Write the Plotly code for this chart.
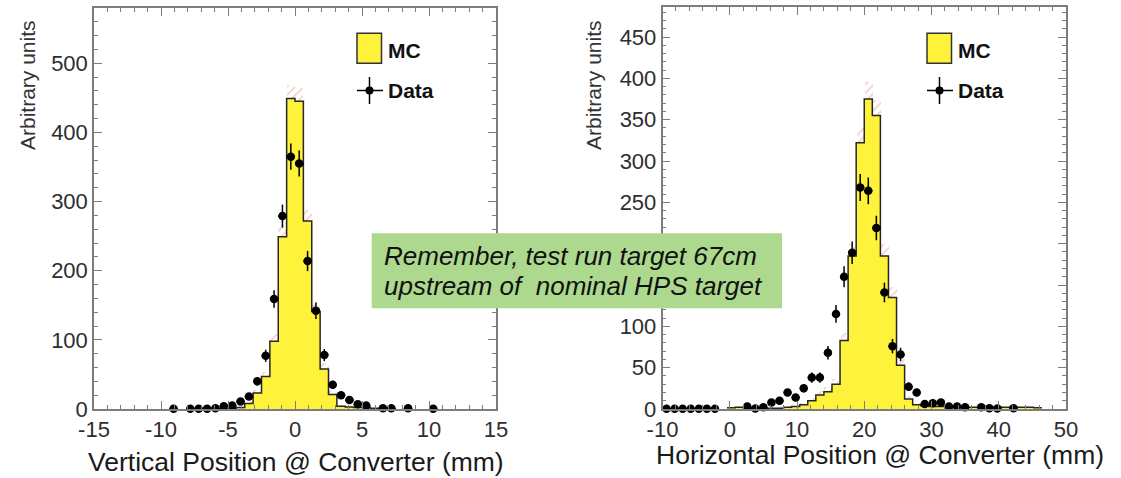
import plotly.graph_objects as go

W, H = 1121, 478

# ---- vertical position @ converter (bins of 0.625 mm) ----
vert_bin = 0.625
vert_mc_x = [-5.3125, -4.6875, -4.0625, -3.4375, -2.8125, -2.1875, -1.5625, -0.9375, -0.3125,
             0.3125, 0.9375, 1.5625, 2.1875, 2.8125, 3.4375, 4.0625, 4.6875, 5.3125, 5.9375,
             6.5625, 7.1875]
vert_mc = [0.5, 1, 2, 8, 23, 47, 98, 249, 449, 445, 272, 141, 58, 21, 4, 3, 2, 2, 1, 1, 0.5]
vert_mc_err = [0.5, 1, 1.5, 3, 5, 7, 10, 16, 20, 20, 16, 12, 8, 5, 2, 2, 1.5, 1.5, 1, 1, 0.5]

vert_data_x = [-9.0625, -7.8125, -7.1875, -6.5625, -5.9375, -5.3125, -4.6875, -4.0625, -3.4375,
               -2.8125, -2.1875, -1.5625, -0.9375, -0.3125, 0.3125, 0.9375, 1.5625, 2.1875,
               2.8125, 3.4375, 4.0625, 4.6875, 5.3125, 6.5625, 7.1875, 8.4375, 10.3125]
vert_data = [0.5, 0.5, 0.5, 0.5, 1, 4, 5, 11, 18, 40, 77, 159, 279, 365, 355, 214, 142, 78,
             35, 20, 13, 7, 5, 1, 1, 1, 0.5]
vert_data_err = [0.7, 0.7, 0.7, 0.7, 1, 2, 2.2, 3.3, 4.2, 6.3, 8.8, 12.6, 16.7, 19.1, 18.8,
                 14.6, 11.9, 8.8, 5.9, 4.5, 3.6, 2.6, 2.2, 1, 1, 1, 0.7]
vert_ticks = [-15, -10, -5, 0, 5, 10, 15]

# ---- horizontal position @ converter (bins of 1.2 mm) ----
horiz_bin = 1.2
horiz_mc_x = [0.2, 1.4, 2.6, 3.8, 5.0, 6.2, 7.4, 8.6, 9.8, 11.0, 12.2, 13.4, 14.6, 15.8, 17.0,
              18.2, 19.4, 20.6, 21.8, 23.0, 24.2, 25.4, 26.6, 27.8, 29.0, 30.2, 31.4, 32.6,
              33.8, 35.0, 36.2, 37.4, 38.6, 39.8, 41.0, 42.2, 43.4, 44.6, 45.8]
horiz_mc = [1.5, 2, 1.5, 0.5, 0.5, 1, 1, 2, 3, 5, 10, 17, 21, 30, 83, 185, 322, 375, 355, 185,
            135, 53, 12, 5, 4, 3, 3, 2.5, 2, 2, 2, 2, 2, 2, 2, 2, 2, 2, 1.5]
horiz_mc_err = [1, 1, 1, 0.5, 0.5, 1, 1, 1.5, 1.5, 2, 3, 4, 5, 6, 9, 14, 18, 20, 19, 14, 12, 7,
                3.5, 2, 2, 1.5, 1.5, 1.5, 1.5, 1, 1, 1, 1, 1, 1, 1, 1, 1, 1]

horiz_data_x = [-9.4, -8.2, -7.0, -5.8, -4.6, -3.4, -2.2, 2.6, 3.8, 5.0, 6.2, 7.4, 8.6, 9.8,
                11.0, 12.2, 13.4, 14.6, 15.8, 17.0, 18.2, 19.4, 20.6, 21.8, 23.0, 24.2, 25.4,
                26.6, 27.8, 29.0, 30.2, 31.4, 32.6, 33.8, 35.0, 37.4, 38.6, 39.8, 42.2]
horiz_data = [0.3, 0.3, 0.3, 0.3, 0.3, 0.3, 0.3, 3, 0.5, 2, 8, 10, 20, 14, 25, 38, 38, 68, 115,
              160, 189, 268, 264, 219, 141, 76, 66, 27, 20, 6, 7, 8, 3, 3, 2, 2, 1, 0.5, 1]
horiz_data_err = [0.5, 0.5, 0.5, 0.5, 0.5, 0.5, 0.5, 1.7, 0.7, 1.4, 2.8, 3.2, 4.5, 3.7, 5, 6.2,
                  6.2, 8.2, 10.7, 12.6, 13.7, 16.4, 16.2, 14.8, 11.9, 8.7, 8.1, 5.2, 4.5, 2.4,
                  2.6, 2.8, 1.7, 1.7, 1.4, 1.4, 1, 0.7, 1]
horiz_ticks = [-10, 0, 10, 20, 30, 40, 50]

note_lines = ['Remember, test run target 67cm', 'upstream of  nominal HPS target']

YELLOW = '#fff23a'
FONT = 'Liberation Sans, Arial, Helvetica, sans-serif'
AXCOL = '#7d7d7d'


def px_x(p):
    return p / W


def px_y(p):
    return (H - p) / H


def add_panel(fig, mc_x, mc, mc_err, d_x, d, d_err, width, xa, ya):
    edges = [c - width / 2 for c in mc_x] + [mc_x[-1] + width / 2]
    fig.add_trace(go.Scatter(x=edges, y=mc + [mc[-1]], mode='lines', line_shape='hv',
                             fill='tozeroy', fillcolor=YELLOW,
                             line=dict(color='#262626', width=1.5),
                             xaxis=xa, yaxis=ya, hoverinfo='skip', showlegend=False))
    fig.add_trace(go.Bar(x=mc_x, y=[2 * e for e in mc_err],
                         base=[v - e for v, e in zip(mc, mc_err)], width=width,
                         marker=dict(color='rgba(0,0,0,0)', line_width=0,
                                     pattern=dict(shape='/', fgcolor='rgba(225,70,70,0.6)',
                                                  size=6, solidity=0.25, fillmode='overlay')),
                         xaxis=xa, yaxis=ya, hoverinfo='skip', showlegend=False))
    fig.add_trace(go.Scatter(x=d_x, y=d, mode='markers',
                             marker=dict(color='black', size=8.5),
                             error_y=dict(type='data', array=d_err, color='black',
                                          thickness=1.5, width=0),
                             error_x=dict(type='constant', value=width / 2, color='black',
                                          thickness=1.5, width=0),
                             cliponaxis=False, xaxis=xa, yaxis=ya, showlegend=False))


fig = go.Figure()
add_panel(fig, vert_mc_x, vert_mc, vert_mc_err, vert_data_x, vert_data, vert_data_err,
          vert_bin, 'x', 'y')
add_panel(fig, horiz_mc_x, horiz_mc, horiz_mc_err, horiz_data_x, horiz_data, horiz_data_err,
          horiz_bin, 'x2', 'y2')

axis_style = dict(showline=True, linecolor=AXCOL, linewidth=1.5, mirror='ticks',
                  ticks='inside', ticklen=8, tickwidth=1.2, tickcolor=AXCOL,
                  showgrid=False, zeroline=False, fixedrange=True, automargin=False,
                  tickfont=dict(family=FONT, size=22, color='#2e2e2e'))


def minor(d):
    return dict(ticks='inside', ticklen=4, tickwidth=1, tickcolor=AXCOL, dtick=d)


def hyphen_labels(vals):
    return [str(v) if v >= 0 else '-' + str(-v) for v in vals]


fig.update_layout(
    xaxis=dict(axis_style, domain=[px_x(94), px_x(496)], range=[-15, 15],
               tickvals=vert_ticks, ticktext=hyphen_labels(vert_ticks),
               minor=minor(1), anchor='y'),
    yaxis=dict(axis_style, domain=[px_y(409), px_y(8)], range=[0, 580], dtick=100,
               minor=minor(20), anchor='x'),
    xaxis2=dict(axis_style, domain=[px_x(662.5), px_x(1066)], range=[-10, 50],
                tickvals=horiz_ticks, ticktext=hyphen_labels(horiz_ticks),
                minor=minor(2), anchor='y2'),
    yaxis2=dict(axis_style, domain=[px_y(409), px_y(7.3)], range=[0, 486], dtick=50,
                minor=minor(10), anchor='x2'),
    width=W, height=H, autosize=False,
    margin=dict(l=0, r=0, t=0, b=0, pad=0, autoexpand=False),
    plot_bgcolor='white', paper_bgcolor='white',
    barmode='overlay', bargap=0,
)

annots = []
shapes = []


def note(x, y, text, size, color, xanchor='center', yanchor='middle', **kw):
    annots.append(dict(x=px_x(x), y=px_y(y), xref='paper', yref='paper', text=text,
                       xanchor=xanchor, yanchor=yanchor, showarrow=False,
                       font=dict(family=FONT, size=size, color=color), **kw))


# y-axis titles, ROOT style (aligned to top end)
for xc in (27, 593):
    note(xc, 85, 'Arbitrary units', 21, '#333333', textangle=-90)

# x-axis titles
note(295.5, 462, 'Vertical Position @ Converter (mm)', 26.5, '#1a1a1a')
note(880, 455, 'Horizontal Position @ Converter (mm)', 26.5, '#1a1a1a')

# legends
for bx in (357, 927):
    shapes.append(dict(type='rect', xref='paper', yref='paper',
                       x0=px_x(bx), x1=px_x(bx + 24.5), y0=px_y(63.3), y1=px_y(33.3),
                       fillcolor=YELLOW, line=dict(color='#333333', width=1.5)))
    cx = bx + 12.5
    shapes.append(dict(type='line', xref='paper', yref='paper',
                       x0=px_x(bx), x1=px_x(bx + 26), y0=px_y(90.5), y1=px_y(90.5),
                       line=dict(color='black', width=1.5)))
    shapes.append(dict(type='line', xref='paper', yref='paper',
                       x0=px_x(cx), x1=px_x(cx), y0=px_y(104), y1=px_y(77),
                       line=dict(color='black', width=1.5)))
    shapes.append(dict(type='circle', xref='paper', yref='paper',
                       x0=px_x(cx - 4), x1=px_x(cx + 4), y0=px_y(94.5), y1=px_y(86.5),
                       fillcolor='black', line=dict(color='black', width=0)))
    note(bx + 29, 50, '<b>MC</b>', 21, '#111111', xanchor='left')
    note(bx + 29, 90, '<b>Data</b>', 21, '#111111', xanchor='left')

# green note box
shapes.append(dict(type='rect', xref='paper', yref='paper', layer='above',
                   x0=px_x(371.7), x1=px_x(782), y0=px_y(308.3), y1=px_y(233.3),
                   fillcolor='#acd98e', line=dict(width=0)))
for line_text, yc in zip(note_lines, (256, 286)):
    note(382, yc, '<i>' + line_text + '</i>', 26, '#111111', xanchor='left')

fig.update_layout(annotations=annots, shapes=shapes)

fig.write_html("out.html", config=dict(displayModeBar=False),
               post_script="document.body.style.margin='0';")
